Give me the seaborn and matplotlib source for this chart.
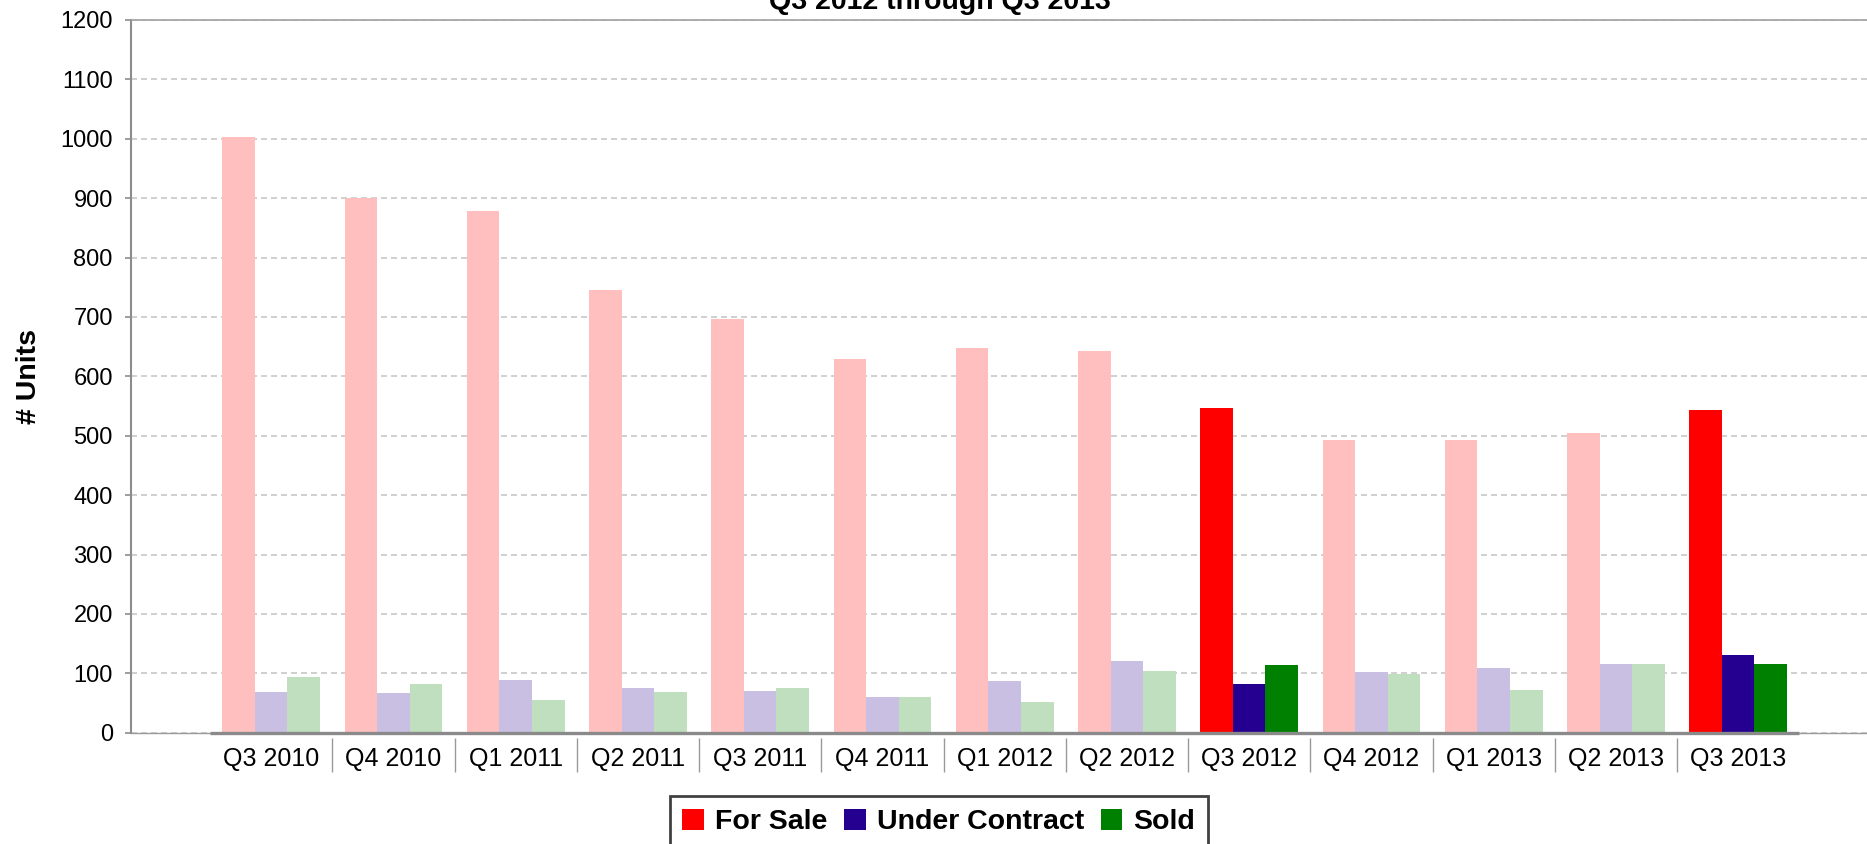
import numpy as np
import pandas as pd
import matplotlib
matplotlib.use("Agg")
import matplotlib.pyplot as plt
import seaborn as sns
from matplotlib.colors import to_rgb
from matplotlib.transforms import blended_transform_factory

# ---------------- data ----------------
quarters = ["Q3 2010", "Q4 2010", "Q1 2011", "Q2 2011", "Q3 2011", "Q4 2011",
            "Q1 2012", "Q2 2012", "Q3 2012", "Q4 2012", "Q1 2013", "Q2 2013", "Q3 2013"]
for_sale = [1003, 901, 879, 746, 697, 629, 647, 643, 547, 493, 493, 505, 544]
under_contract = [69, 67, 89, 75, 70, 60, 87, 121, 82, 102, 109, 116, 131]
sold = [94, 82, 55, 69, 75, 60, 52, 104, 114, 99, 72, 116, 116]
series_names = ["For Sale", "Under Contract", "Sold"]
series_colors = ["#FF0000", "#250090", "#008000"]
highlight = ["Q3 2012", "Q3 2013"]
title_text = "Q3 2012 through Q3 2013"
y_ticks = list(range(0, 1201, 100))

df = pd.DataFrame({
    "Quarter": quarters * 3,
    "Units": for_sale + under_contract + sold,
    "Series": [s for s in series_names for _ in quarters],
})

# ---------------- style ----------------
sns.set_style("white")
plt.rcParams["font.family"] = ["Liberation Sans", "DejaVu Sans"]
plt.rcParams["text.color"] = "black"
plt.rcParams["axes.labelcolor"] = "black"
plt.rcParams["xtick.color"] = "black"
plt.rcParams["ytick.color"] = "black"

W, H = 1867, 844
fig = plt.figure(figsize=(W / 100, H / 100), dpi=100)
ax_left, ax_right, ax_top, ax_bottom = 130.7, 1867.0, 20.0, 732.7
ax = fig.add_axes([ax_left / W, 1 - ax_bottom / H, (ax_right - ax_left) / W,
                   (ax_bottom - ax_top) / H])

sns.barplot(data=df, x="Quarter", y="Units", hue="Series", order=quarters,
            hue_order=series_names, palette=dict(zip(series_names, series_colors)),
            width=0.8, saturation=1, linewidth=0, errorbar=None, ax=ax)


def faded(c, a=0.25):
    r, g, b = to_rgb(c)
    return (1 - a + a * r, 1 - a + a * g, 1 - a + a * b)


for cont, col in zip(ax.containers, series_colors):
    for q, bar in zip(quarters, cont):
        bar.set_facecolor(col if q in highlight else faded(col))
        bar.set_zorder(2)

ax.set_xlim(-1.149, 13.054)
ax.set_ylim(0, 1200)
ax.set_yticks(y_ticks)
ax.yaxis.grid(True, color="#c8c8c8", lw=1.2, linestyle=(0, (3.6, 2.4)))
ax.xaxis.grid(False)
ax.set_axisbelow(True)

ax.spines["left"].set_color("#8c8c8c")
ax.spines["left"].set_linewidth(1.5)
ax.spines["top"].set_color("#a0a0a0")
ax.spines["top"].set_linewidth(1.2)
ax.spines["right"].set_visible(False)
ax.spines["bottom"].set_color("#9a9a9a")
ax.spines["bottom"].set_linewidth(1.0)

ax.hlines(0, -0.5, len(quarters) - 0.5, color="#8a8a8a", lw=2.4, zorder=3, clip_on=False)

# category dividers below the axis
trans = blended_transform_factory(ax.transData, ax.transAxes)
axh = ax_bottom - ax_top
ax.vlines(np.arange(len(quarters) - 1) + 0.5, -5.6 / axh, -39.0 / axh,
          transform=trans, color="#999999", lw=1.0, clip_on=False)

ax.tick_params(axis="y", direction="out", length=4.3, width=1.2, color="#8c8c8c",
               labelcolor="black", pad=8.6, labelsize=17, left=True)
ax.tick_params(axis="x", length=0, pad=10.5, labelsize=18, labelcolor="black")
ax.set_xlabel("")
ax.set_ylabel("# Units", fontsize=20.5, fontweight="bold", color="black")
ax.yaxis.set_label_coords(-0.0511, 0.5)

handles, labels = ax.get_legend_handles_labels()
for h in handles:
    h.set_linewidth(0)
leg = ax.legend(handles, labels, loc="center", bbox_to_anchor=(938.8 / W, 1 - 822 / H),
                bbox_transform=fig.transFigure, ncol=3, frameon=True, fancybox=False,
                edgecolor="#111111", prop={"weight": "bold", "size": 20.5},
                handlelength=0.75, handleheight=0.75, handletextpad=0.39,
                columnspacing=0.6, borderpad=0.45, borderaxespad=0)
leg.get_frame().set_linewidth(2)
for t in leg.get_texts():
    t.set_color("black")

fig.text(940 / W, 1 - 9 / H, title_text, ha="center", va="baseline",
         fontsize=20.5, fontweight="bold", color="black")

fig.savefig("out.png", dpi=100)
